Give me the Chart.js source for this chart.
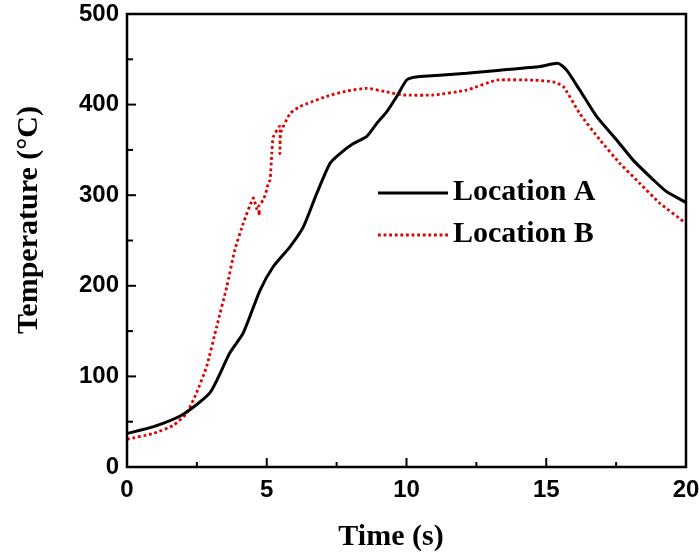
<!DOCTYPE html>
<html>
<head>
<meta charset="utf-8">
<script src="https://cdn.jsdelivr.net/npm/chart.js@4.4.1/dist/chart.umd.min.js"></script>
<style>
  html, body { margin: 0; padding: 0; background: #fff; }
  #wrap { width: 699px; height: 558px; }
</style>
</head>
<body>
<div id="wrap"><canvas id="myChart"></canvas></div>
<script>
// time (s) and temperature (C)
var timeA = [0, 0.95, 2.0, 2.97, 3.68, 4.16, 4.76, 5.23, 5.83, 6.31, 6.79, 7.26, 7.62, 8.1, 8.58, 8.93, 9.29, 9.65, 10.0, 10.24, 10.48, 12.15, 13.35, 14.78, 15.43, 15.73, 16.2, 16.8, 17.52, 18.1, 18.83, 19.3, 20.0];
var tempA = [37, 44.5, 58, 82, 126, 148, 195, 221, 243, 265, 302, 335, 346, 357, 365, 379, 392, 409, 427, 430, 431, 434.5, 438, 442, 445.5, 438, 416, 387, 361, 339, 317, 304, 292];

var timeB = [0, 0.94, 1.66, 2.13, 2.49, 2.85, 3.21, 3.57, 3.86, 4.16, 4.52, 4.64, 4.76, 4.7, 4.88, 5.0, 5.05, 5.12, 5.18, 5.23, 5.47, 5.47, 5.5, 5.83, 6.19, 6.43, 7.14, 7.86, 8.58, 9.29, 9.89, 10.96, 12.15, 13.23, 14.54, 15.25, 15.61, 16.2, 16.92, 17.64, 18.35, 19.07, 20.0];
var tempB = [30.6, 37, 46, 59, 82, 111, 155, 199, 240, 269, 297, 285, 278, 287, 295, 306, 313, 317, 346, 364, 376, 346, 369, 390, 398, 401, 409, 415, 418, 414, 410.6, 410.6, 416, 427, 427, 425, 420, 390, 361, 335, 313, 291, 269];

var seriesNames = ['Location A', 'Location B'];
var xTitle = 'Time (s)';
var yTitle = 'Temperature (\u00B0C)';

function toPoints(xs, ys) {
    return xs.map(function (x, i) { return { x: x, y: ys[i] }; });
}

var serif = "'Liberation Serif', 'Times New Roman', serif";
var sans = "'Liberation Sans', Arial, sans-serif";

// frame, inward ticks, axis titles and legend
var decor = {
    id: 'decor',
    afterDraw: function (chart) {
        var c = chart.ctx, a = chart.chartArea;
        var xs = chart.scales.x, ys = chart.scales.y;
        c.save();
        c.strokeStyle = '#000';
        c.lineWidth = 2;
        var v, p, len;
        for (v = 0; v <= 20; v += 2.5) {
            p = xs.getPixelForValue(v);
            len = (v % 5 === 0) ? 9 : 5;
            c.beginPath(); c.moveTo(p, a.bottom); c.lineTo(p, a.bottom - len); c.stroke();
        }
        for (v = 0; v <= 500; v += 50) {
            p = ys.getPixelForValue(v);
            len = (v % 100 === 0) ? 9 : 6;
            c.beginPath(); c.moveTo(a.left, p); c.lineTo(a.left + len, p); c.stroke();
        }
        c.lineWidth = 2.5;
        c.strokeRect(a.left, a.top, a.right - a.left, a.bottom - a.top);

        // axis titles
        c.fillStyle = '#000';
        c.font = 'bold 30px ' + serif;
        c.textAlign = 'center';
        c.textBaseline = 'middle';
        c.fillText(xTitle, 391, 537);
        c.save();
        c.translate(29, 220);
        c.rotate(-Math.PI / 2);
        c.fillText(yTitle, 0, 0);
        c.restore();

        // legend
        var ds = chart.data.datasets;
        var rows = [193, 235];
        c.textAlign = 'left';
        for (var i = 0; i < ds.length; i++) {
            c.strokeStyle = ds[i].borderColor;
            c.lineWidth = ds[i].borderWidth;
            c.setLineDash(ds[i].borderDash || []);
            c.beginPath(); c.moveTo(378, rows[i]); c.lineTo(448, rows[i]); c.stroke();
            c.setLineDash([]);
            c.fillText(ds[i].label, 453, rows[i] - 1);
        }
        c.restore();
    }
};

var ctx = document.getElementById('myChart');

var graphData = {
    type: 'line',
    data: {
        datasets: [{
            label: seriesNames[0],
            data: toPoints(timeA, tempA),
            borderColor: '#000000',
            borderWidth: 3,
            pointRadius: 0,
            tension: 0.2
        }, {
            label: seriesNames[1],
            data: toPoints(timeB, tempB),
            borderColor: '#e00000',
            borderWidth: 2.8,
            borderDash: [2.8, 2.8],
            pointRadius: 0,
            tension: 0.15
        }]
    },
    options: {
        responsive: true,
        maintainAspectRatio: false,
        animation: false,
        layout: { padding: { top: 14, right: 13, left: 0, bottom: 0 } },
        plugins: { legend: { display: false }, tooltip: { enabled: false } },
        scales: {
            x: {
                type: 'linear',
                min: 0, max: 20,
                grid: { display: false, drawTicks: false },
                border: { display: false },
                ticks: { stepSize: 5, padding: 9, color: '#000', font: { family: sans, weight: 'bold', size: 24 } },
                afterFit: function (s) { s.height = 91; s.paddingLeft = 0; s.paddingRight = 0; }
            },
            y: {
                min: 0, max: 500,
                grid: { display: false, drawTicks: false },
                border: { display: false },
                ticks: { stepSize: 100, padding: 8, color: '#000', font: { family: sans, weight: 'bold', size: 24 } },
                afterFit: function (s) { s.width = 127; s.paddingTop = 0; s.paddingBottom = 0; }
            }
        }
    },
    plugins: [decor]
};

var myChart = new Chart(ctx, graphData);
</script>
</body>
</html>
